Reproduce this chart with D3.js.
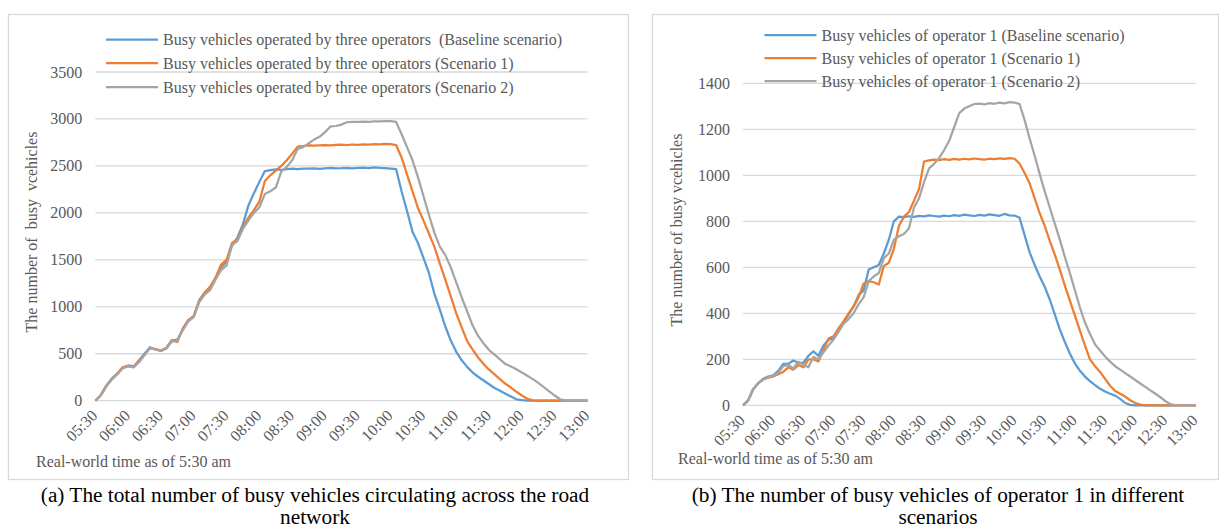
<!DOCTYPE html>
<html>
<head>
<meta charset="utf-8">
<script src="https://cdn.jsdelivr.net/npm/d3@7"></script>
<style>
  body { margin: 0; background: #ffffff; }
  svg text { font-family: "Liberation Serif", "Times New Roman", serif; }
  .pre { white-space: pre; }
</style>
</head>
<body>
<svg id="fig" width="1219" height="530"></svg>
<script>
// Time axis: minutes after 05:30, sampled every 5 minutes up to 13:00
const minutes = d3.range(0, 451, 5);
const timeTicks = [0, 30, 60, 90, 120, 150, 180, 210, 240, 270, 300, 330, 360, 390, 420, 450];
const timeLabels = ["05:30", "06:00", "06:30", "07:00", "07:30", "08:00", "08:30", "09:00",
                    "09:30", "10:00", "10:30", "11:00", "11:30", "12:00", "12:30", "13:00"];

// (a) busy vehicles of all three operators
const totalBaseline = [
  0, 60, 160, 235, 285, 350, 375, 365, 430, 500,
  570, 545, 530, 560, 640, 650, 760, 850, 900, 1070,
  1150, 1200, 1310, 1420, 1480, 1650, 1740, 1880, 2080, 2210,
  2330, 2445, 2455, 2462, 2458, 2465, 2470, 2466, 2472, 2470,
  2475, 2468, 2473, 2478, 2474, 2476, 2480, 2475, 2478, 2482,
  2477, 2484, 2480, 2476, 2472, 2466, 2230, 2020, 1800, 1680,
  1520, 1360, 1140, 970, 790, 640, 520, 430, 360, 300,
  255, 215, 175, 135, 105, 75, 45, 15, 5, 0,
  0, 0, 0, 0, 0, 0, 0, 0, 0, 0,
  0
];
const totalScenario1 = [
  0, 55, 155, 230, 290, 355, 370, 360, 420, 490,
  560, 550, 535, 565, 645, 625, 770, 860, 900, 1060,
  1150, 1215, 1310, 1450, 1500, 1680, 1720, 1850, 1950, 2030,
  2120, 2340, 2400, 2450, 2500, 2560, 2630, 2705, 2712, 2718,
  2715, 2720, 2722, 2718, 2724, 2726, 2722, 2728, 2725, 2730,
  2727, 2732, 2729, 2734, 2731, 2722, 2590, 2410, 2230, 2050,
  1920, 1780, 1640, 1460, 1290, 1110, 930, 780, 635, 545,
  460, 390, 330, 280, 230, 180, 140, 95, 55, 20,
  3, 0, 0, 0, 0, 0, 0, 0, 0, 0,
  0
];
const totalScenario2 = [
  0, 55, 150, 225, 280, 345, 365, 355, 410, 485,
  560, 545, 530, 555, 630, 640, 750, 845, 890, 1050,
  1130, 1180, 1290, 1390, 1440, 1660, 1700, 1830, 1920, 2000,
  2060, 2200, 2230, 2270, 2440, 2490, 2560, 2680, 2700, 2740,
  2780, 2810, 2860, 2920, 2925, 2940, 2965, 2970, 2968, 2972,
  2970, 2975, 2973, 2978, 2976, 2968, 2840, 2700, 2560, 2380,
  2180, 1980, 1790, 1640, 1550, 1420, 1260, 1100, 950, 800,
  690, 610, 540, 490, 440, 390, 365, 335, 300, 265,
  230, 190, 145, 100, 55, 15, 0, 0, 0, 0,
  0
];

// (b) busy vehicles of operator 1
const op1Baseline = [
  0, 20, 70, 95, 115, 125, 130, 150, 180, 180,
  195, 185, 185, 215, 235, 215, 260, 285, 290, 320,
  360, 395, 430, 480, 500, 590, 600, 610, 660, 720,
  800, 820, 818, 822, 819, 824, 821, 826, 823, 820,
  825, 822, 827, 824, 829, 826, 823, 828, 825, 830,
  827, 824, 832, 826, 825, 815, 740, 665, 610, 560,
  515, 460, 395, 330, 275, 225, 182, 150, 125, 105,
  88, 72, 60, 50, 42, 28, 10, 2, 0, 0,
  0, 0, 0, 0, 0, 0, 0, 0, 0, 0,
  0
];
const op1Scenario1 = [
  0, 20, 68, 95, 112, 120, 125, 135, 145, 165,
  155, 175, 165, 200, 200, 190, 240, 290, 300, 335,
  365, 400, 430, 470, 530, 540, 535, 525, 605, 620,
  680, 780, 820, 840, 890, 940, 1060, 1065, 1068, 1066,
  1070, 1067, 1071, 1068, 1072, 1069, 1073, 1070, 1068, 1072,
  1070, 1074, 1071, 1075, 1072, 1050, 1010, 965, 900, 835,
  780, 715, 655, 590, 520, 455, 390, 325, 260, 200,
  170, 145, 115, 85, 62, 50, 38, 22, 10, 3,
  0, 0, 0, 0, 0, 0, 0, 0, 0, 0,
  0
];
const op1Scenario2 = [
  0, 20, 70, 95, 112, 122, 128, 140, 170, 175,
  160, 190, 175, 165, 210, 200, 230, 260, 285, 320,
  355, 375, 400, 440, 470, 540, 560, 575, 640, 660,
  720, 735, 745, 770, 860, 900, 970, 1030, 1050, 1075,
  1110, 1150, 1210, 1270, 1290, 1300, 1310, 1312, 1308, 1314,
  1311, 1316, 1313, 1318, 1316, 1310, 1240, 1160, 1085, 1005,
  930, 860, 790, 720, 645, 575, 500, 425, 360, 310,
  265, 238, 212, 190, 170, 155, 140, 125, 110, 95,
  80, 65, 50, 35, 18, 5, 0, 0, 0, 0,
  0
];

const totalTicks = [0, 500, 1000, 1500, 2000, 2500, 3000, 3500];
const op1Ticks = [0, 200, 400, 600, 800, 1000, 1200, 1400];

const totalNames = [
  "Busy vehicles operated by three operators  (Baseline scenario)",
  "Busy vehicles operated by three operators (Scenario 1)",
  "Busy vehicles operated by three operators (Scenario 2)"
];
const op1Names = [
  "Busy vehicles of operator 1 (Baseline scenario)",
  "Busy vehicles of operator 1 (Scenario 1)",
  "Busy vehicles of operator 1 (Scenario 2)"
];
const seriesColors = ["#5B9BD5", "#ED7D31", "#A5A5A5"];

const TEXT = "#595959";
const GRID = "#D9D9D9";
const svg = d3.select("#fig");

function drawPanel(p) {
  const g = svg.append("g");

  // chart frame
  g.append("rect")
    .attr("x", p.frame[0]).attr("y", p.frame[1])
    .attr("width", p.frame[2]).attr("height", p.frame[3])
    .attr("fill", "none").attr("stroke", GRID).attr("stroke-width", 1.3);

  const x = d3.scaleLinear().domain([0, 450]).range([p.left, p.right]);
  const y = d3.scaleLinear().domain([0, p.yTicks[p.yTicks.length - 1]]).range([p.bottom, p.top]);

  // horizontal gridlines
  g.append("g").selectAll("line").data(p.yTicks).join("line")
    .attr("x1", p.left).attr("x2", p.right)
    .attr("y1", d => y(d)).attr("y2", d => y(d))
    .attr("stroke", GRID).attr("stroke-width", 1.3);

  // y tick labels
  g.append("g").selectAll("text").data(p.yTicks).join("text")
    .attr("x", p.left - 13).attr("y", d => y(d))
    .attr("text-anchor", "end").attr("dominant-baseline", "central")
    .attr("font-size", 16).attr("fill", TEXT)
    .text(d => d);

  // rotated time labels
  g.append("g").selectAll("text").data(timeTicks).join("text")
    .attr("transform", (d) => `translate(${x(d) + 3},${p.bottom + 16}) rotate(-45)`)
    .attr("text-anchor", "end")
    .attr("font-size", 16).attr("fill", TEXT)
    .text((d, i) => timeLabels[i]);

  // axis titles
  g.append("text").attr("class", "pre")
    .attr("transform", `translate(${p.yTitleX},${p.yTitleY}) rotate(-90)`)
    .attr("text-anchor", "middle").attr("dominant-baseline", "central")
    .attr("font-size", 16).attr("fill", TEXT)
    .text(p.yTitle);
  g.append("text")
    .attr("x", p.xTitleX).attr("y", p.xTitleY)
    .attr("dominant-baseline", "central")
    .attr("font-size", 16).attr("fill", TEXT)
    .text("Real-world time as of 5:30 am");

  // series
  const line = d3.line().x((d, i) => x(minutes[i])).y(d => y(d));
  p.series.forEach((s, k) => {
    g.append("path").datum(s)
      .attr("d", line)
      .attr("fill", "none")
      .attr("stroke", seriesColors[k])
      .attr("stroke-width", 2.25)
      .attr("stroke-linejoin", "round");
  });

  // legend
  const lg = g.append("g");
  p.names.forEach((name, k) => {
    const ly = p.legendY[k];
    lg.append("line")
      .attr("x1", p.legendX).attr("x2", p.legendX + 52)
      .attr("y1", ly).attr("y2", ly)
      .attr("stroke", seriesColors[k]).attr("stroke-width", 2.25);
    lg.append("text").attr("class", "pre")
      .attr("x", p.legendX + 57).attr("y", ly)
      .attr("dominant-baseline", "central")
      .attr("font-size", 16).attr("fill", TEXT)
      .text(name);
  });

  // caption below the frame
  const cap = svg.append("text")
    .attr("x", p.capX).attr("text-anchor", "middle")
    .attr("font-size", 21.3).attr("fill", "#000");
  p.caption.forEach((t, i) => {
    cap.append("tspan").attr("x", p.capX).attr("y", 502 + i * 22).text(t);
  });
}

drawPanel({
  frame: [8.5, 14.5, 620, 465],
  left: 95.3, right: 587.5, bottom: 400.7, top: 72,
  yTicks: totalTicks,
  yTitle: "The number of  busy  vcehicles", yTitleX: 31, yTitleY: 232,
  xTitleX: 36, xTitleY: 461,
  series: [totalBaseline, totalScenario1, totalScenario2],
  names: totalNames,
  legendX: 106, legendY: [39.5, 63, 87],
  capX: 315,
  caption: ["(a) The total number of busy vehicles circulating across the road", "network"]
});

drawPanel({
  frame: [652.5, 14.5, 566, 465],
  left: 743, right: 1195.6, bottom: 405.3, top: 83.3,
  yTicks: op1Ticks,
  yTitle: "The number of busy vcehicles", yTitleX: 676, yTitleY: 230,
  xTitleX: 678, xTitleY: 458,
  series: [op1Baseline, op1Scenario1, op1Scenario2],
  names: op1Names,
  legendX: 764.5, legendY: [35, 58, 81],
  capX: 938,
  caption: ["(b) The number of busy vehicles of operator 1 in different", "scenarios"]
});
</script>
</body>
</html>
